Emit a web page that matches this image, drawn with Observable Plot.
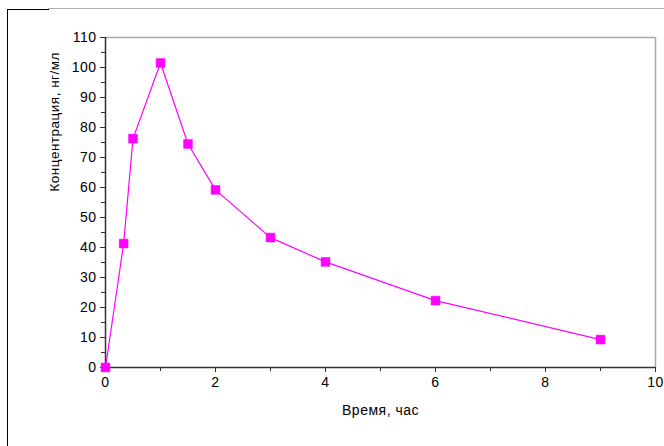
<!DOCTYPE html>
<html>
<head>
<meta charset="utf-8">
<script src="https://cdn.jsdelivr.net/npm/d3@7"></script>
<script src="https://cdn.jsdelivr.net/npm/@observablehq/plot@0.6"></script>
<style>
  html, body { margin: 0; padding: 0; background: #ffffff; }
  #wrap { position: relative; width: 664px; height: 446px; overflow: hidden; }
  .frame { position: absolute; }
</style>
</head>
<body>
<div id="wrap">
  <div class="frame" style="left:48px; top:8px; width:616px; height:1px; background:#b0b0b0;"></div>
  <div class="frame" style="left:7px; top:9px; width:42px; height:1px; background:#000;"></div>
  <div class="frame" style="left:7px; top:9px; width:1px; height:437px; background:#000;"></div>
  <div id="chart" style="position:absolute; left:0; top:0;"></div>
</div>
<script>
const timeHours = [0, 0.33, 0.5, 1, 1.5, 2, 3, 4, 6, 9];
const concentration = [0, 41.3, 76.3, 101.5, 74.5, 59.2, 43.3, 35.2, 22.3, 9.3];
const xMajorTicks = [0, 2, 4, 6, 8, 10];
const xMinorTicks = [1, 3, 5, 7, 9];
const yMajorTicks = [0, 10, 20, 30, 40, 50, 60, 70, 80, 90, 100, 110];
const yMinorTicks = [5, 15, 25, 35, 45, 55, 65, 75, 85, 95, 105];
const xLabel = "Время, час";
const yLabel = "Концентрация, нг/мл";

const data = timeHours.map((t, i) => ({t, c: concentration[i]}));

const chart = Plot.plot({
  width: 664,
  height: 446,
  marginLeft: 105,
  marginRight: 9,
  marginTop: 37,
  marginBottom: 79,
  style: {fontFamily: "'Liberation Sans', Arial, sans-serif", fontSize: "14px", color: "#000", background: "transparent", letterSpacing: "0.5px"},
  x: {domain: [0, 10], label: null},
  y: {domain: [0, 110], label: null},
  marks: [
    Plot.ruleY([110], {stroke: "#a8a8a8", strokeWidth: 1.5}),
    Plot.ruleX([10], {stroke: "#a8a8a8", strokeWidth: 1.5}),
    Plot.axisY({ticks: yMinorTicks, tickSize: 4, text: null, stroke: "#333", label: null}),
    Plot.axisY({ticks: yMajorTicks, tickSize: 5, tickPadding: 4, stroke: "#333", fill: "#000", fontSize: 14, label: null}),
    Plot.axisX({ticks: xMinorTicks, tickSize: 4, text: null, stroke: "#333", label: null}),
    Plot.axisX({ticks: xMajorTicks, tickSize: 5, tickPadding: 5, stroke: "#333", fill: "#000", fontSize: 14, label: null}),
    Plot.ruleX([0], {stroke: "#333", strokeWidth: 1.5}),
    Plot.ruleY([0], {stroke: "#333", strokeWidth: 1.5}),
    Plot.line(data, {x: "t", y: "c", stroke: "#ff00ff", strokeWidth: 1.2}),
    Plot.dot(data, {x: "t", y: "c", symbol: "square", r: 5, fill: "#ff00ff", stroke: "#ff00ff", strokeWidth: 0.5}),
    Plot.text([xLabel], {frameAnchor: "bottom", dy: 47, text: d => d, fontSize: 14, fill: "#000"}),
    Plot.text([yLabel], {frameAnchor: "left", dx: -51, dy: -11, rotate: -90, text: d => d, fontSize: 13.5, fill: "#000"})
  ]
});
document.getElementById("chart").appendChild(chart);
</script>
</body>
</html>
